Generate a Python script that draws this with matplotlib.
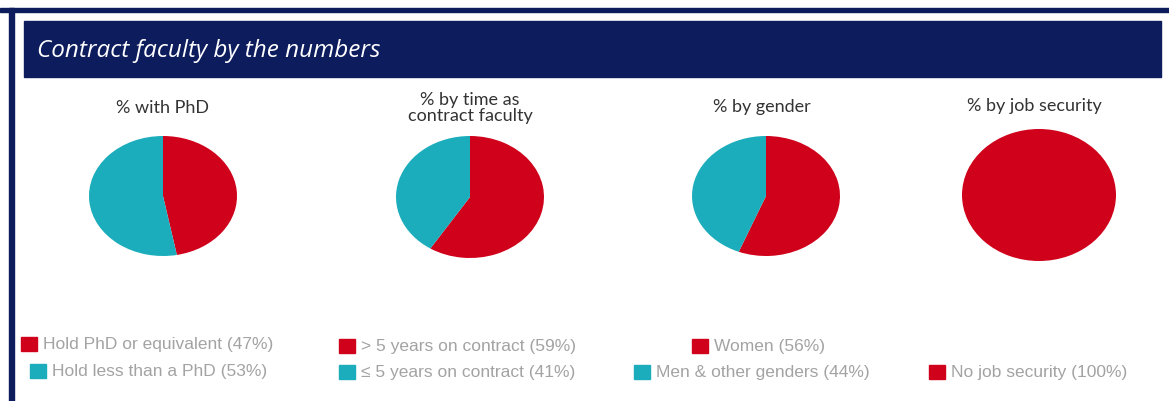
import matplotlib
matplotlib.use("Agg")
from matplotlib import pyplot as plt
from matplotlib.patches import Rectangle

W, H = 1169, 402

RED = "#d0011b"
TEAL = "#1badbb"
NAVY = "#0c1c5c"

# chart data
titles = ["% with PhD", "% by time as\ncontract faculty", "% by gender", "% by job security"]
labels = [
    ["Hold PhD or equivalent", "Hold less than a PhD"],
    ["> 5 years on contract", "\u2264 5 years on contract"],
    ["Women", "Men & other genders"],
    ["No job security"],
]
values = [
    [47, 53],
    [59, 41],
    [56, 44],
    [100],
]
colors = [RED, TEAL]

# pie centres / radii in pixels (x, y from top)
pie_boxes = [(163, 197, 74, 60), (470, 198, 74, 61), (766, 197, 74, 60), (1039, 196, 77, 66)]
title_pos = [(163, 108), (470, 108), (762, 107), (1034, 106)]
# legend entries: (square x, row y) per entry
legend_pos = [
    [(21, 345), (30, 372)],
    [(339, 347), (339, 373)],
    [(692, 347), (634, 373)],
    [(929, 373)],
]


def fx(x):
    return x / W


def fy(y):
    return 1 - y / H


fig = plt.figure(figsize=(W / 100, H / 100), dpi=100)
fig.patch.set_facecolor("white")

# frame lines on top and left, then the header band
fig.patches.append(Rectangle((0, fy(13)), 1, 4 / H, transform=fig.transFigure,
                             color=NAVY, zorder=1))
fig.patches.append(Rectangle((fx(9), 0), 5 / W, fy(9), transform=fig.transFigure,
                             color=NAVY, zorder=1))
fig.patches.append(Rectangle((fx(24), fy(78)), (1161 - 24) / W, 56 / H,
                             transform=fig.transFigure, color=NAVY, zorder=1))
fig.text(fx(37), fy(51), "Contract faculty by the numbers", color="white",
         fontsize=17.5, fontstyle="italic", family="Open Sans", va="center", ha="left")

for i in range(len(values)):
    cx, cy, rx, ry = pie_boxes[i]
    ax = fig.add_axes([fx(cx - rx), fy(cy + ry), 2 * rx / W, 2 * ry / H])
    ax.pie(values[i], colors=colors[:len(values[i])], startangle=90,
           counterclock=False, radius=1, wedgeprops=dict(linewidth=0))
    ax.set_aspect("auto")
    ax.set_xlim(-1, 1)
    ax.set_ylim(-1, 1)
    ax.axis("off")

    tx, ty = title_pos[i]
    fig.text(fx(tx), fy(ty), titles[i], ha="center", va="center", fontsize=13,
             family="Lato", color="#333333", linespacing=0.95)

    for j in range(len(values[i])):
        sx, sy = legend_pos[i][j]
        fig.patches.append(Rectangle((fx(sx), fy(sy + 7)), 16 / W, 14 / H,
                                     transform=fig.transFigure, color=colors[j]))
        fig.text(fx(sx + 22), fy(sy), "%s (%d%%)" % (labels[i][j], values[i][j]),
                 ha="left", va="center", fontsize=12.5, family="Liberation Sans",
                 color="#a3a3a3")

fig.savefig("out.png", dpi=100)
